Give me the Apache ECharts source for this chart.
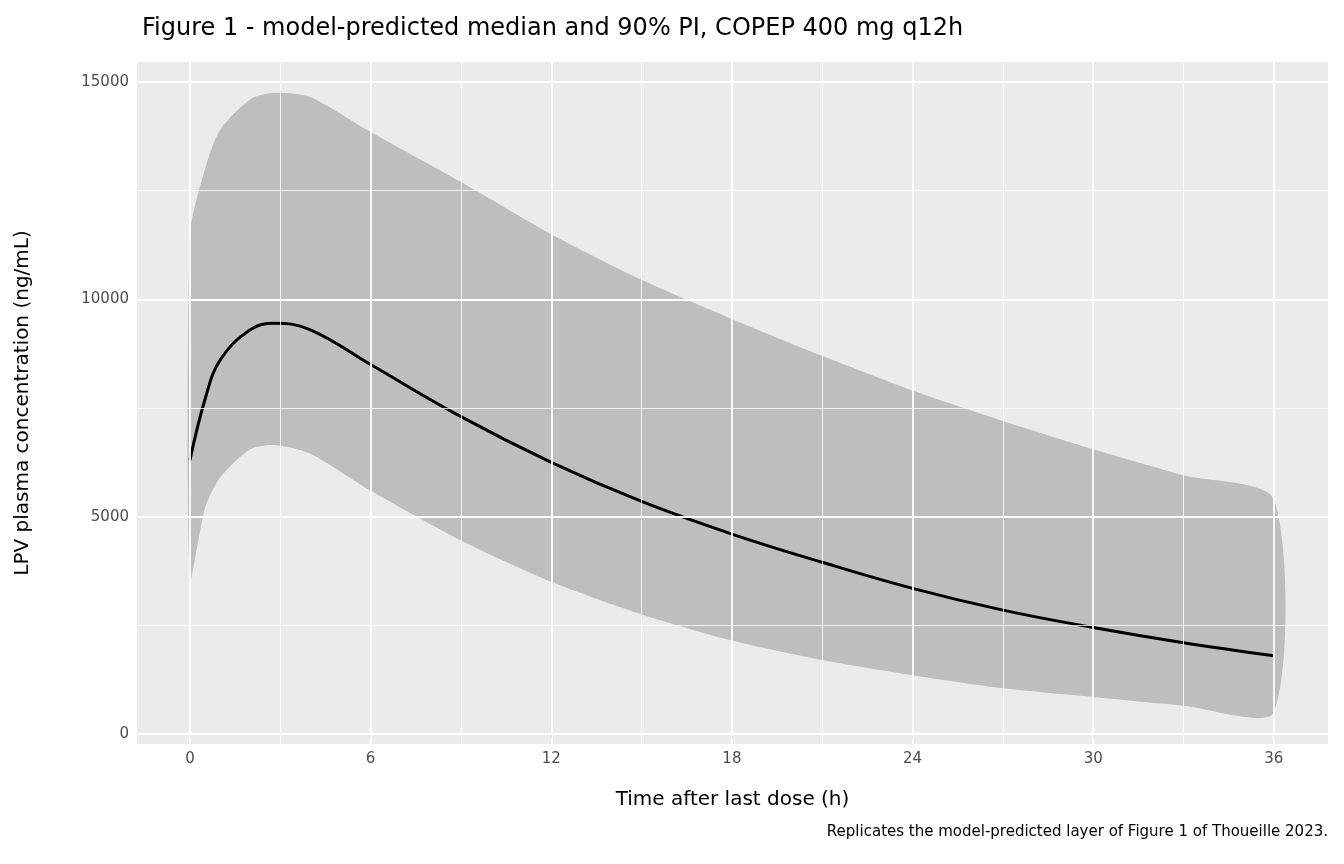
<!DOCTYPE html>
<html>
<head>
<meta charset="utf-8">
<script src="https://cdn.jsdelivr.net/npm/echarts@6/dist/echarts.min.js"></script>
<style>html,body{margin:0;background:#fff}#c{width:1344px;height:864px}</style>
</head>
<body>
<div id="c"></div>
<script>
// time grid (h)
const hours = [0, 0.5, 1, 2, 2.8, 4, 6, 9, 12, 15, 18, 21, 24, 27, 30, 33, 36]
const median = [6300, 7700, 8600, 9300, 9450, 9300, 8500, 7300, 6250, 5350, 4600, 3950, 3350, 2850, 2450, 2100, 1800]
const upper = [11500, 13000, 13900, 14600, 14750, 14650, 13850, 12700, 11500, 10450, 9550, 8700, 7900, 7200, 6550, 5950, 5400]
const lower = [3550, 5200, 5900, 6550, 6650, 6450, 5600, 4450, 3500, 2750, 2150, 1700, 1350, 1050, 850, 650, 500]
const xTicks = [0, 6, 12, 18, 24, 30, 36]
const xMinor = [3, 9, 15, 21, 27, 33]
const yTicks = [0, 5000, 10000, 15000]
const yMinor = [2500, 7500, 12500]

const chart = echarts.init(document.getElementById('c'))
const pts = arr => hours.map((h, i) => [h, arr[i]])
const gridLine = (axis, v, w) => ({ [axis]: v, lineStyle: { color: '#fff', width: w, type: 'solid' } })
const font = 'DejaVu Sans'

chart.setOption({
  animation: false,
  title: {
    text: 'Figure 1 - model-predicted median and 90% PI, COPEP 400 mg q12h',
    left: 137, top: 12,
    textStyle: { fontSize: 24, fontWeight: 'normal', color: '#000', fontFamily: font }
  },
  graphic: [{
    type: 'text', right: 16, top: 825,
    style: { text: 'Replicates the model-predicted layer of Figure 1 of Thoueille 2023.', fontSize: 15, fill: '#000', fontFamily: font }
  }],
  grid: { left: 137, top: 62, width: 1191, height: 682, show: true, backgroundColor: '#ebebeb', borderWidth: 0 },
  xAxis: {
    type: 'value', min: -1.76, max: 37.8,
    name: 'Time after last dose (h)', nameLocation: 'middle', nameGap: 46,
    nameTextStyle: { fontSize: 20, color: '#000', fontFamily: font },
    axisLine: { show: false },
    axisTick: { customValues: xTicks, length: 5, lineStyle: { color: '#333' } },
    axisLabel: { customValues: xTicks, fontSize: 15, color: '#4d4d4d', fontFamily: font, margin: 8 },
    splitLine: { show: false }
  },
  yAxis: {
    type: 'value', min: -230, max: 15460,
    name: 'LPV plasma concentration (ng/mL)', nameLocation: 'middle', nameGap: 104,
    nameTextStyle: { fontSize: 20, color: '#000', fontFamily: font },
    axisLine: { show: false },
    axisTick: { show: true, customValues: yTicks, length: 5, lineStyle: { color: '#333' } },
    axisLabel: { customValues: yTicks, formatter: v => String(v), fontSize: 15, color: '#4d4d4d', fontFamily: font, margin: 8 },
    splitLine: { show: false }
  },
  series: [
    {
      type: 'line', data: [], silent: true,
      markLine: {
        silent: true, symbol: 'none', label: { show: false },
        data: [
          ...xMinor.map(v => gridLine('xAxis', v, 0.8)),
          ...yMinor.map(v => gridLine('yAxis', v, 0.8)),
          ...xTicks.map(v => gridLine('xAxis', v, 1.8)),
          ...yTicks.map(v => gridLine('yAxis', v, 1.8))
        ]
      }
    },
    {
      // 90% PI band: upper edge then lower edge backwards
      type: 'custom', silent: true, data: [0],
      renderItem: (params, api) => {
        const top = hours.map((h, i) => api.coord([h, upper[i]]))
        const bot = hours.map((h, i) => api.coord([h, lower[i]])).reverse()
        return {
          type: 'group',
          children: [
            { type: 'polyline', shape: { points: top, smooth: 0.3 }, style: { fill: 'none', stroke: 'none' } },
            {
              type: 'polygon',
              shape: { points: top.concat(bot), smooth: 0.25 },
              style: { fill: '#bebebe' }
            }
          ]
        }
      }
    },
    {
      type: 'line', data: pts(median), smooth: 0.4, symbol: 'none',
      lineStyle: { color: '#000', width: 3 }
    }
  ]
})
</script>
</body>
</html>
